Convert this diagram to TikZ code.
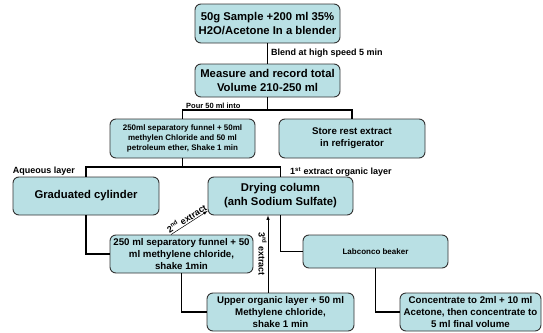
\documentclass[tikz,border=0pt]{standalone}
\usepackage{fontspec}
\setmainfont{Liberation Sans}
\definecolor{tealfill}{RGB}{185,224,228}
\tikzset{
	stage/.style={draw=black!80, fill=tealfill, rounded corners=6pt, line width=0.9pt, align=center, inner sep=1pt},
	bigtext/.style={font=\bfseries\fontsize{11.3}{14}\selectfont},
	midtext/.style={font=\bfseries\fontsize{9.7}{12}\selectfont},
	smalltext/.style={font=\bfseries\fontsize{8}{9.6}\selectfont},
	note/.style={font=\bfseries\fontsize{9}{10}\selectfont, inner sep=1pt},
	link/.style={line width=1.4pt},
	extract/.style={-latex, line width=0.5pt},
}

\begin{document}
\begin{tikzpicture}[x=1pt, y=-1pt]
	\useasboundingbox (0,0) rectangle (543,332);

	\node[stage, bigtext, minimum width=145pt, minimum height=39pt] (sample) at (267.5,23.5) {50g Sample +200 ml 35\%\\H2O/Acetone In a blender};
	\node[stage, bigtext, minimum width=145pt, minimum height=33pt] (measure) at (267.5,80.5) {Measure and record total\\Volume 210-250 ml};
	\node[stage, smalltext, minimum width=145pt, minimum height=39pt] (funnel) at (182.5,138.5) {250ml separatory funnel + 50ml\\methylen Chloride and 50 ml\\petroleum ether, Shake 1 min};
	\node[stage, midtext, minimum width=146pt, minimum height=39pt] (store) at (352,138.5) {Store rest extract\\in refrigerator};
	\node[stage, bigtext, minimum width=146pt, minimum height=38pt] (cylinder) at (86,196) {Graduated cylinder};
	\node[stage, bigtext, minimum width=145pt, minimum height=38pt] (drying) at (280.5,196) {Drying column\\(anh Sodium Sulfate)};
	\node[stage, midtext, minimum width=143pt, minimum height=38pt] (sepfunnel) at (181.5,254) {250 ml separatory funnel + 50\\ml methylene chloride,\\shake 1min};
	\node[stage, midtext, minimum width=147pt, minimum height=38pt] (upper) at (280.5,312) {Upper organic layer + 50 ml\\Methylene chloride,\\shake 1 min};
	\node[stage, smalltext, minimum width=145pt, minimum height=33pt] (beaker) at (375.5,251.5) {Labconco beaker};
	\node[stage, midtext, minimum width=141pt, minimum height=38pt] (conc) at (470.5,312) {Concentrate to 2ml + 10 ml\\Acetone, then concentrate to\\5 ml final volume};

	\draw[link] (sample) -- node[note, right=2pt] (blend) {Blend at high speed 5 min} (measure);
	\coordinate (split) at (267.5,110);
	\draw[link] (measure) -- (split);
	\draw[link] (funnel.north) |- (split) -| (store.north);
	\node[note, font=\bfseries\fontsize{7.5}{9}\selectfont, anchor=south west] (pour) at (185,109.5) {Pour 50 ml into};

	\coordinate (layers) at (182.5,167);
	\draw[link] (funnel) -- (layers);
	\draw[link] (cylinder.north) |- (layers) -| (drying.north);
	\node[note, anchor=east] (aqueous) at (76,171.5) {Aqueous layer};
	\node[note, anchor=west] (organic) at (289,172) {1\textsuperscript{st} extract organic layer};

	\draw[link] (cylinder) |- (sepfunnel);
	\draw[link] (sepfunnel) |- (upper);
	\draw[link] (drying) |- (beaker);
	\draw[link] (beaker) |- (conc);

	\coordinate (second) at (171,211);
	\draw[extract] (sepfunnel.north -| second) -- node[note, sloped, above] (secondlbl) {2\textsuperscript{nd} extract} (drying.west |- second);
	\coordinate (third) at (268,0);
	\draw[extract] (upper.north -| third) -- node[note, rotate=-90, anchor=north, midway] (thirdlbl) {3\textsuperscript{rd} extract} (drying.south -| third);
\end{tikzpicture}
\end{document}
